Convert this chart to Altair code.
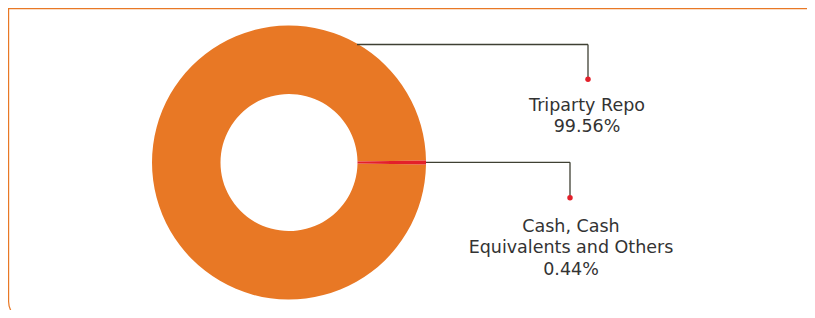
import math
import altair as alt
import pandas as pd

# ---- data ----
categories = ["Triparty Repo", "Cash, Cash Equivalents and Others"]
values = [99.56, 0.44]
label_lines = [["Triparty Repo"], ["Cash, Cash", "Equivalents and Others"]]
stack_order = [1, 0]

ORANGE = "#E87825"
RED = "#E3202A"
LINE = "#3f4033"
TEXT = "#333333"
FONT = "DejaVu Sans"

df = pd.DataFrame({
    "category": categories,
    "value": values,
    "order": stack_order,
    "label": ["\n".join(lines + [f"{v:.2f}%"]) for lines, v in zip(label_lines, values)],
})
one = pd.DataFrame({"k": [0]})

W, H = 799, 302
CX, CY = 281, 154.5
R_OUT, R_IN = 137, 68.5
start = math.pi / 2 - 0.0138

top_bar = alt.Chart(one).mark_rect(color=ORANGE).encode(
    x=alt.value(0), x2=alt.value(W), y=alt.value(0), y2=alt.value(1.2)
)
border = alt.Chart(one).mark_rect(
    fillOpacity=0, stroke=ORANGE, strokeWidth=1.2, cornerRadius=19
).encode(x=alt.value(0.6), x2=alt.value(W + 40), y=alt.value(-20), y2=alt.value(312.5))

donut = alt.Chart(df).mark_arc(innerRadius=R_IN, outerRadius=R_OUT).encode(
    theta=alt.Theta("value:Q", stack=True,
                    scale=alt.Scale(domain=[0, 100], range=[start, start + 2 * math.pi])),
    color=alt.Color("category:N", scale=alt.Scale(domain=categories, range=[ORANGE, RED]),
                    legend=None),
    order=alt.Order("order:Q"),
    x=alt.value(CX), y=alt.value(CY),
)

def rule(x1, y1, x2, y2):
    return alt.Chart(one).mark_rule(color=LINE, strokeWidth=1.3).encode(
        x=alt.value(x1), y=alt.value(y1), x2=alt.value(x2), y2=alt.value(y2)
    )

def dot(x, y):
    return alt.Chart(one).mark_point(filled=True, color=RED, size=30, opacity=1).encode(
        x=alt.value(x), y=alt.value(y)
    )

leaders = [
    rule(349, 36.5, 580, 36.5), rule(580, 36.5, 580, 71), dot(580, 71.3),
    rule(418, 154.3, 562, 154.3), rule(562, 154.3, 562, 189.7), dot(562, 189.8),
]

def label(cat, x, y):
    return alt.Chart(df).transform_filter(alt.datum.category == cat).mark_text(
        font=FONT, fontSize=17.5, color=TEXT, align="center", baseline="alphabetic",
        lineBreak="\n", lineHeight=21.6,
    ).encode(text="label:N", x=alt.value(x), y=alt.value(y))

labels = [label(categories[0], 579, 102.7), label(categories[1], 563, 223.7)]

chart = alt.layer(top_bar, border, donut, *leaders, *labels).properties(
    width=W, height=H, autosize=alt.AutoSizeParams(type="none"), padding=0,
    background="white",
).configure_view(stroke=None)

chart.save("out.html", embed_options={"renderer": "svg", "actions": False})
